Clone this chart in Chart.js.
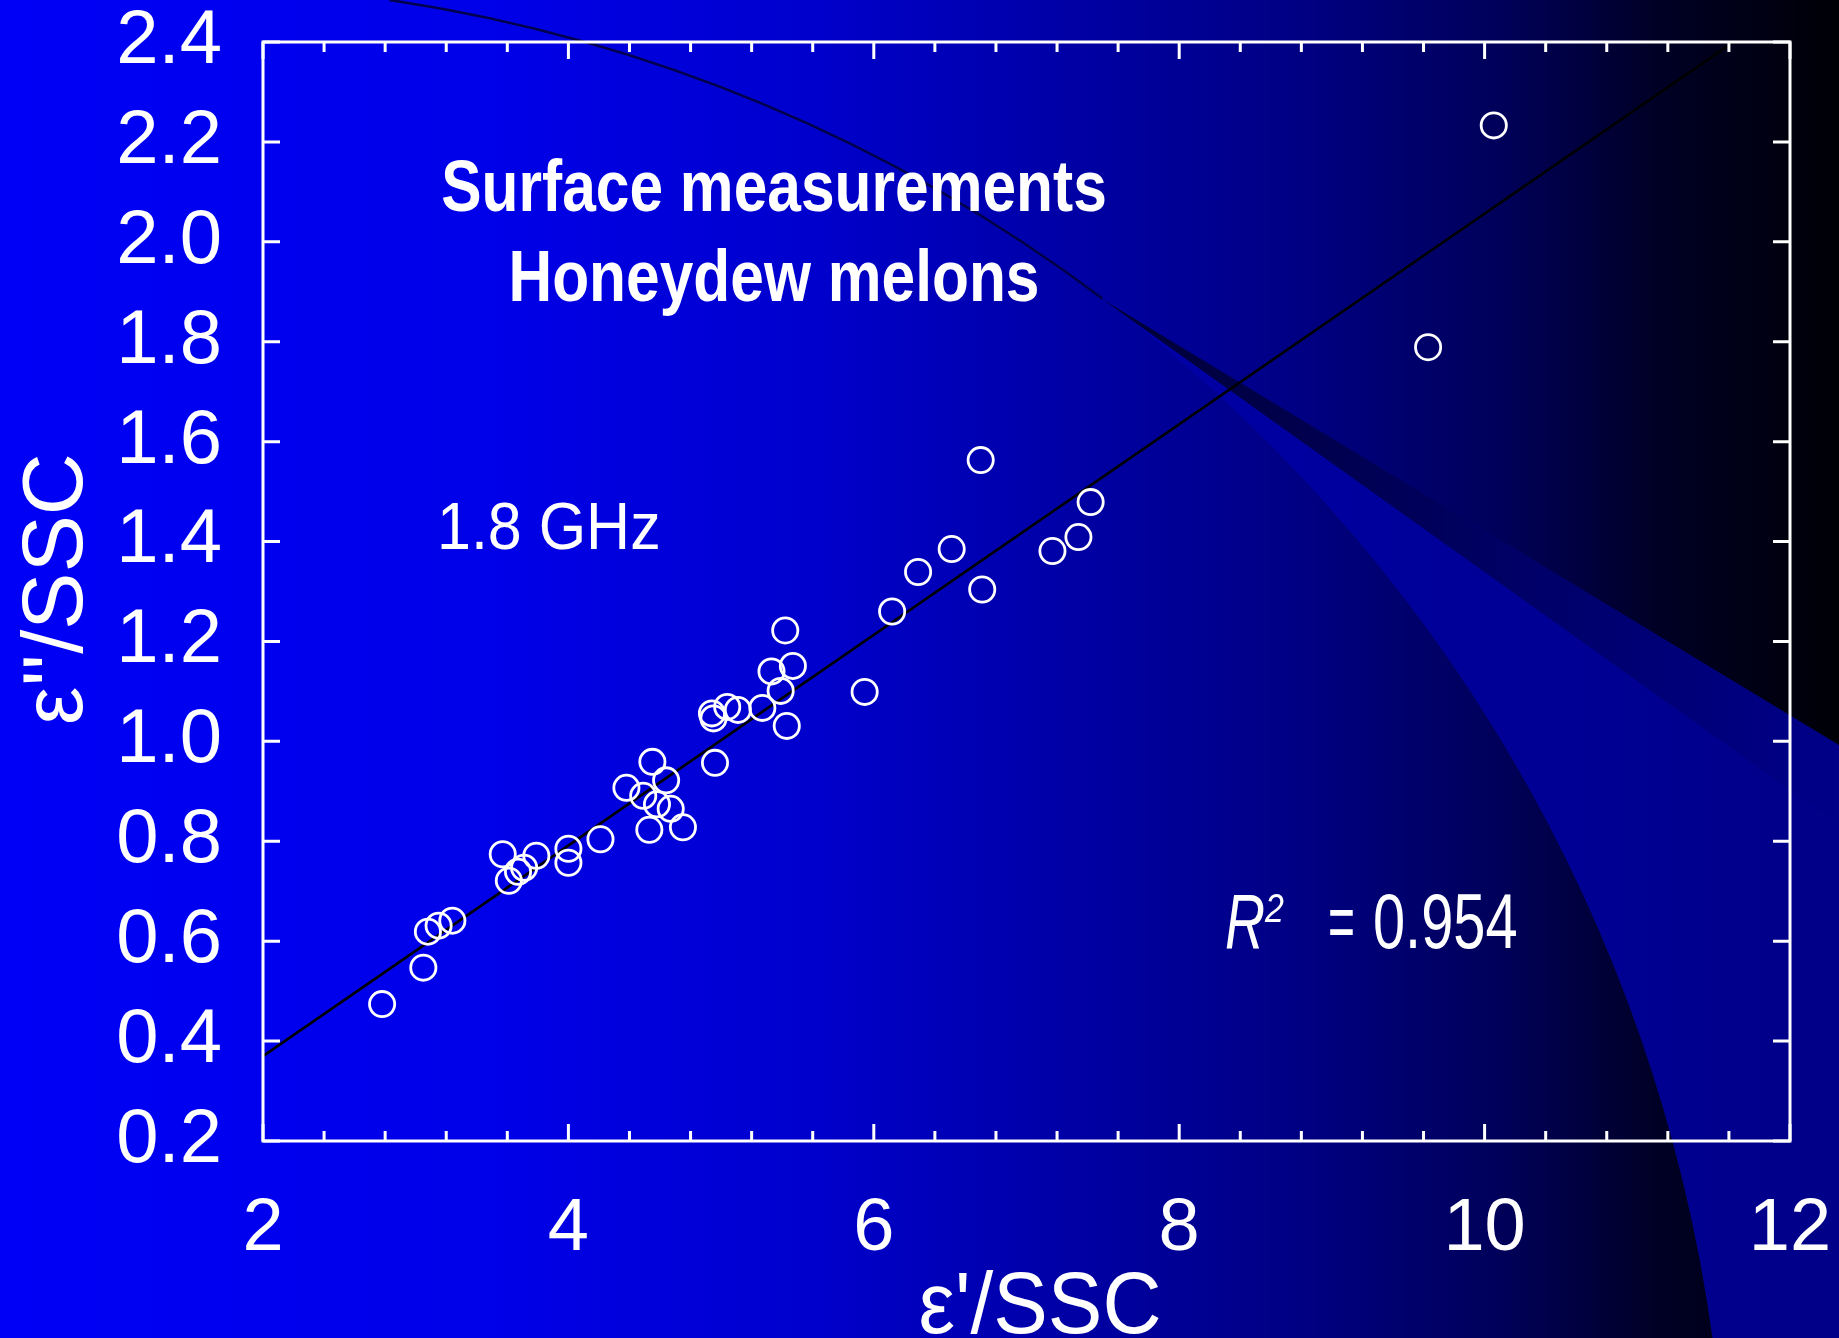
<!DOCTYPE html>
<html>
<head>
<meta charset="utf-8">
<script src="https://cdn.jsdelivr.net/npm/chart.js@4.4.1/dist/chart.umd.min.js"></script>
<style>
  html, body { margin: 0; padding: 0; background: #0000f0; overflow: hidden; }
  canvas { display: block; }
</style>
</head>
<body>
<canvas id="c" width="1839" height="1338"></canvas>
<script>
// ---------------- data ----------------
const xValues = [2.78, 3.05, 3.08, 3.15, 3.24, 3.57, 3.61, 3.67, 3.71, 3.79,
                 4.00, 4.00, 4.21, 4.38, 4.55, 4.64, 4.49, 4.58, 4.67, 4.53,
                 4.75, 4.96, 4.94, 4.95, 5.04, 5.11, 5.27, 5.39, 5.33, 5.47,
                 5.42, 5.43, 5.94, 6.12, 6.29, 6.51, 6.70, 6.71, 7.17, 7.34,
                 7.42, 9.63, 10.06];
const yValues = [0.474, 0.547, 0.619, 0.631, 0.641, 0.774, 0.721, 0.739, 0.747, 0.771,
                 0.785, 0.757, 0.804, 0.907, 0.959, 0.922, 0.891, 0.874, 0.865, 0.823,
                 0.828, 0.957, 1.056, 1.046, 1.069, 1.063, 1.067, 1.101, 1.140, 1.151,
                 1.222, 1.031, 1.099, 1.260, 1.339, 1.385, 1.563, 1.304, 1.381, 1.409,
                 1.479, 1.789, 2.233];
const fitLineX = [2.00, 11.63];
const fitLineY = [0.37, 2.40];
const xMin = 2, xMax = 12, xStep = 2, xMinorStep = 0.4;
const yMin = 0.2, yMax = 2.4, yStep = 0.2;
const titleLines = ['Surface measurements', 'Honeydew melons'];
const freqLabel = '1.8 GHz';
const r2Value = '0.954';
const xAxisTitle = "\u03B5'/SSC";
const yAxisTitle = "\u03B5''/SSC";

const points = xValues.map((x, i) => ({ x: x, y: yValues[i] }));
const fitPoints = fitLineX.map((x, i) => ({ x: x, y: fitLineY[i] }));

const FONT = "'Liberation Sans', Arial, Helvetica, sans-serif";

// ---------------- background decoration ----------------
const bgPlugin = {
  id: 'bg',
  beforeDraw(chart) {
    const ctx = chart.ctx, W = chart.width, H = chart.height;
    ctx.save();
    const g = ctx.createLinearGradient(0, 0, W, 0);
    g.addColorStop(0.00, 'rgb(0,0,246)');
    g.addColorStop(0.27, 'rgb(0,0,232)');
    g.addColorStop(0.44, 'rgb(0,0,205)');
    g.addColorStop(0.60, 'rgb(0,0,160)');
    g.addColorStop(0.71, 'rgb(0,0,130)');
    g.addColorStop(0.82, 'rgb(0,0,88)');
    g.addColorStop(0.90, 'rgb(0,0,38)');
    g.addColorStop(1.00, 'rgb(0,0,6)');
    ctx.fillStyle = g;
    ctx.fillRect(0, 0, W, H);

    const cx = 159, cy = 1551, r = 1568;
    const p0x = 1102, p0y = 299;
    const a0 = Math.atan2(p0y - cy, p0x - cx);
    const aTop = Math.atan2(0 - cy, Math.sqrt(r * r - cy * cy));
    const bx = cx + Math.sqrt(r * r - (H - cy) * (H - cy));
    const aBot = Math.atan2(H - cy, bx - cx);
    const lEndY = 745;

    // lighter region outside the circle, under the diagonal
    ctx.beginPath();
    ctx.moveTo(p0x, p0y);
    ctx.lineTo(W, lEndY);
    ctx.lineTo(W, H);
    ctx.lineTo(bx, H);
    ctx.arc(cx, cy, r, aBot, a0, true);
    ctx.closePath();
    const g2 = ctx.createLinearGradient(p0x, 0, W, 0);
    g2.addColorStop(0, 'rgb(0,0,168)');
    g2.addColorStop(1, 'rgb(0,0,136)');
    ctx.fillStyle = g2;
    ctx.fill();

    // dark shadow band along the diagonal
    ctx.beginPath();
    ctx.moveTo(p0x, p0y);
    ctx.lineTo(W, lEndY);
    ctx.lineTo(W, lEndY + 80);
    ctx.closePath();
    const g3 = ctx.createLinearGradient(p0x, 0, W, 0);
    g3.addColorStop(0, 'rgba(0,0,40,0.9)');
    g3.addColorStop(0.45, 'rgba(0,0,40,0.55)');
    g3.addColorStop(1, 'rgba(0,0,40,0.0)');
    ctx.fillStyle = g3;
    ctx.fill();

    // thin dark arc at the top
    ctx.beginPath();
    ctx.arc(cx, cy, r, aTop, a0, false);
    ctx.strokeStyle = 'rgba(0,0,60,0.9)';
    ctx.lineWidth = 2.5;
    ctx.stroke();
    ctx.restore();
  }
};

// ---------------- frame, inward ticks, annotations ----------------
function drawTextScaled(ctx, text, x, y, font, align, sx) {
  ctx.save();
  ctx.font = font;
  ctx.textAlign = align;
  ctx.textBaseline = 'alphabetic';
  ctx.translate(x, y);
  ctx.scale(sx, 1);
  ctx.fillText(text, 0, 0);
  ctx.restore();
}

const framePlugin = {
  id: 'frame',
  afterDatasetsDraw(chart) {
    const ctx = chart.ctx, a = chart.chartArea;
    const xs = chart.scales.x, ys = chart.scales.y;
    const majorLen = 17, minorLen = 10;
    ctx.save();
    ctx.strokeStyle = '#ffffff';
    ctx.lineWidth = 3;
    ctx.lineCap = 'butt';
    ctx.strokeRect(a.left, a.top, a.right - a.left, a.bottom - a.top);
    ctx.beginPath();
    ys.ticks.forEach(t => {
      const py = ys.getPixelForValue(t.value);
      ctx.moveTo(a.left, py); ctx.lineTo(a.left + majorLen, py);
      ctx.moveTo(a.right, py); ctx.lineTo(a.right - majorLen, py);
    });
    const n = Math.round((xs.max - xs.min) / xMinorStep);
    for (let i = 0; i <= n; i++) {
      const v = xs.min + i * xMinorStep;
      const q = (v - xs.min) / xStep;
      const major = Math.abs(q - Math.round(q)) < 1e-6;
      const len = major ? majorLen : minorLen;
      const px = xs.getPixelForValue(v);
      ctx.moveTo(px, a.bottom); ctx.lineTo(px, a.bottom - len);
      ctx.moveTo(px, a.top); ctx.lineTo(px, a.top + len);
    }
    ctx.stroke();
    ctx.restore();
  },
  afterDraw(chart) {
    const ctx = chart.ctx;
    ctx.save();
    ctx.fillStyle = '#ffffff';
    // title block
    drawTextScaled(ctx, titleLines[0], 774, 211, 'bold 72px ' + FONT, 'center', 0.84);
    drawTextScaled(ctx, titleLines[1], 774, 301, 'bold 72px ' + FONT, 'center', 0.84);
    // frequency
    drawTextScaled(ctx, freqLabel, 437, 549, '67px ' + FONT, 'left', 0.91);
    // R^2
    drawTextScaled(ctx, 'R', 1225, 948, 'italic 77px ' + FONT, 'left', 0.72);
    drawTextScaled(ctx, '2', 1265, 922, 'italic 40px ' + FONT, 'left', 0.85);
    drawTextScaled(ctx, '=', 1328, 948, '77px ' + FONT, 'left', 0.6);
    drawTextScaled(ctx, r2Value, 1373, 948, '77px ' + FONT, 'left', 0.75);
    // axis titles
    drawTextScaled(ctx, xAxisTitle, 1040, 1333, '88px ' + FONT, 'center', 0.93);
    ctx.save();
    ctx.translate(82, 589);
    ctx.rotate(-Math.PI / 2);
    ctx.font = '86px ' + FONT;
    ctx.textAlign = 'center';
    ctx.textBaseline = 'alphabetic';
    ctx.fillText(yAxisTitle, 0, 0);
    ctx.restore();
    ctx.restore();
  }
};

new Chart(document.getElementById('c'), {
  type: 'scatter',
  data: {
    datasets: [
      {
        label: 'measurements',
        data: points,
        pointStyle: 'circle',
        pointRadius: 12.6,
        pointHoverRadius: 12.6,
        borderWidth: 2.8,
        pointBorderWidth: 2.8,
        borderColor: '#ffffff',
        pointBorderColor: '#ffffff',
        backgroundColor: 'rgba(0,0,0,0)',
        pointBackgroundColor: 'rgba(0,0,0,0)',
        showLine: false
      },
      {
        label: 'fit',
        type: 'line',
        data: fitPoints,
        borderColor: '#000000',
        borderWidth: 2.6,
        pointRadius: 0,
        fill: false,
        tension: 0
      }
    ]
  },
  options: {
    responsive: false,
    devicePixelRatio: 1,
    animation: false,
    events: [],
    layout: { padding: { top: 42, right: 49, left: 0, bottom: 0 } },
    plugins: { legend: { display: false }, tooltip: { enabled: false }, title: { display: false } },
    scales: {
      x: {
        type: 'linear', position: 'bottom',
        min: xMin, max: xMax,
        grid: { display: false, drawTicks: false },
        border: { display: false },
        ticks: {
          stepSize: xStep, color: '#ffffff', padding: 44,
          font: { family: FONT, size: 74, lineHeight: 1.2 },
          maxRotation: 0, autoSkip: false
        },
        afterFit(s) { s.height = 197; s.paddingLeft = 0; s.paddingRight = 0; }
      },
      y: {
        type: 'linear', position: 'left',
        min: yMin, max: yMax,
        grid: { display: false, drawTicks: false },
        border: { display: false },
        ticks: {
          stepSize: yStep, color: '#ffffff', padding: 41,
          font: { family: FONT, size: 76, lineHeight: 1.0 },
          autoSkip: false,
          callback: v => Number(v).toFixed(1)
        },
        afterFit(s) { s.width = 263; s.paddingTop = 0; s.paddingBottom = 0; }
      }
    }
  },
  plugins: [bgPlugin, framePlugin]
});
</script>
</body>
</html>
